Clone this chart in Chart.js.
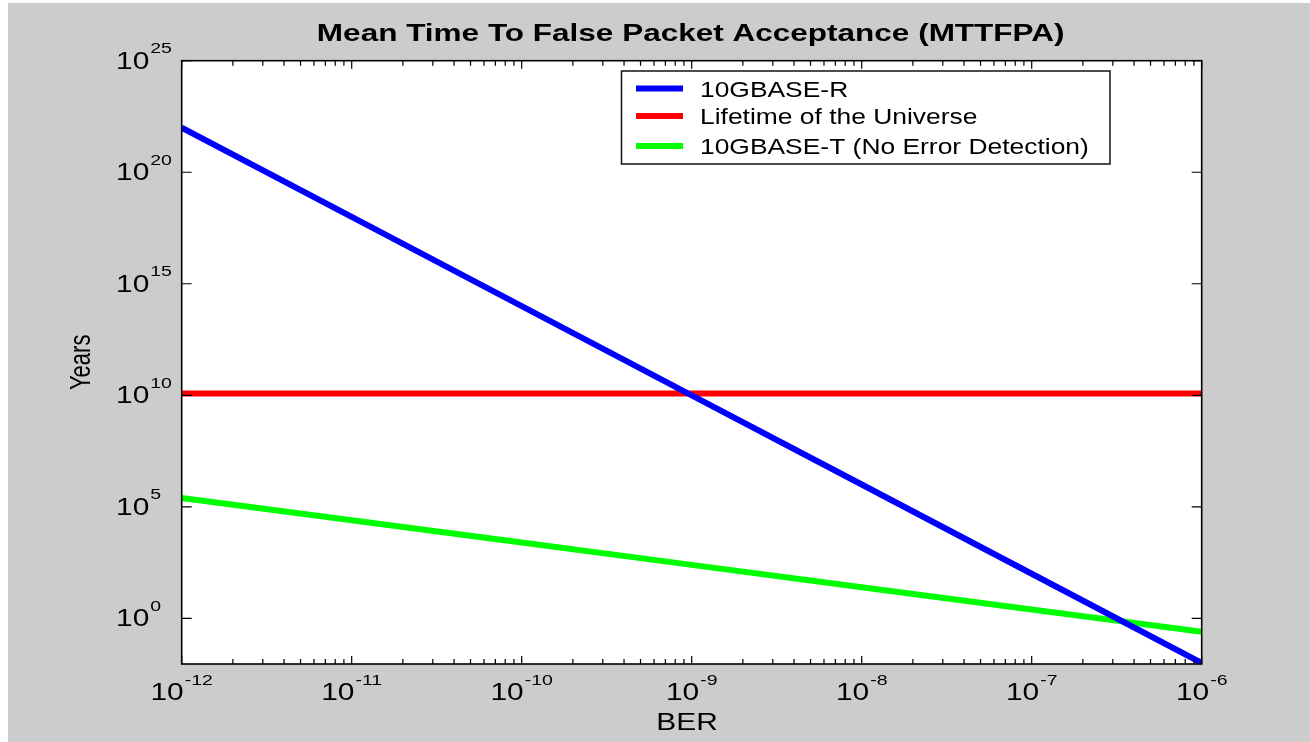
<!DOCTYPE html>
<html lang="en">
<head>
  <meta charset="UTF-8" />
  <title>MTTFPA</title>
  <script src="https://cdn.jsdelivr.net/npm/chart.js"></script>
  <style>
    html, body {
      margin: 0;
      padding: 0;
      background: #ffffff;
    }
    #wrap {
      width: 1310px;
      height: 742px;
    }
  </style>
</head>
<body>
  <div id="wrap"><canvas id="mttfpaChart" width="1310" height="742"></canvas></div>

  <script>
    // values (log-log)
    const berValues = [1e-12, 1e-11, 1e-10, 1e-9, 1e-8, 1e-7, 1e-6];
    const gbaseR = [1e22, 1e18, 1e14, 1e10, 1e6, 1e2, 1e-2];
    const universe = [1.2e10, 1.2e10, 1.2e10, 1.2e10, 1.2e10, 1.2e10, 1.2e10];
    const gbaseT = [2.5e5, 2.5e4, 2.5e3, 250, 25, 2.5, 0.25];

    const seriesNames = ['10GBASE-R', 'Lifetime of the Universe', '10GBASE-T (No Error Detection)'];
    const seriesColors = ['#0000ff', '#ff0000', '#00ff00'];

    const xTickExps = [-12, -11, -10, -9, -8, -7, -6];
    const yTickExps = [0, 5, 10, 15, 20, 25];

    const chartTitle = 'Mean Time To False Packet Acceptance (MTTFPA)';
    const xTitle = 'BER';
    const yTitle = 'Years';

    const FONT = '"Liberation Sans", Arial, sans-serif';
    const SX = 1.3; // the original text is stretched horizontally

    function toPoints(vals) {
      return berValues.map((b, i) => ({ x: b, y: vals[i] }));
    }

    function wideText(ctx, text, x, y, align, sx) {
      ctx.save();
      ctx.translate(x, y);
      ctx.scale(sx || SX, 1);
      ctx.textAlign = align || 'left';
      ctx.textBaseline = 'alphabetic';
      ctx.fillText(text, 0, 0);
      ctx.restore();
    }

    // "10" with a raised exponent, drawn from (left, baseline)
    function powLabel(ctx, exp, left, baseline) {
      ctx.font = '23px ' + FONT;
      const wBase = ctx.measureText('10').width * SX;
      wideText(ctx, '10', left, baseline);
      ctx.font = '15px ' + FONT;
      wideText(ctx, String(exp), left + wBase + 1, baseline - 15.5);
    }

    function powWidth(ctx, exp) {
      ctx.font = '23px ' + FONT;
      const a = ctx.measureText('10').width * SX;
      ctx.font = '15px ' + FONT;
      const b = ctx.measureText(String(exp)).width * SX;
      return a + b + 1;
    }

    const matlabLook = {
      id: 'matlabLook',
      beforeDraw(chart) {
        const ctx = chart.ctx;
        const a = chart.chartArea;
        ctx.save();
        ctx.fillStyle = '#ffffff';
        ctx.fillRect(0, 0, chart.width, chart.height);
        ctx.fillStyle = '#cccccc';
        ctx.fillRect(8, 3, chart.width - 8, chart.height - 3);
        ctx.fillStyle = '#ffffff';
        ctx.fillRect(a.left, a.top, a.right - a.left, a.bottom - a.top);
        ctx.restore();
      },
      afterDatasetsDraw(chart) {
        const ctx = chart.ctx;
        const a = chart.chartArea;
        const xs = chart.scales.x;
        const ys = chart.scales.y;
        ctx.save();

        // ticks (inward, top/bottom and left/right)
        ctx.strokeStyle = '#000000';
        ctx.lineWidth = 1.2;
        ctx.beginPath();
        for (let e = xTickExps[0]; e <= xTickExps[xTickExps.length - 1]; e++) {
          const px = xs.getPixelForValue(Math.pow(10, e));
          ctx.moveTo(px, a.bottom); ctx.lineTo(px, a.bottom - 8);
          ctx.moveTo(px, a.top); ctx.lineTo(px, a.top + 8);
          if (e < xTickExps[xTickExps.length - 1]) {
            for (let m = 2; m <= 9; m++) {
              const mx = xs.getPixelForValue(m * Math.pow(10, e));
              ctx.moveTo(mx, a.bottom); ctx.lineTo(mx, a.bottom - 5);
              ctx.moveTo(mx, a.top); ctx.lineTo(mx, a.top + 5);
            }
          }
        }
        yTickExps.forEach(e => {
          const py = ys.getPixelForValue(Math.pow(10, e));
          ctx.moveTo(a.left, py); ctx.lineTo(a.left + 10, py);
          ctx.moveTo(a.right, py); ctx.lineTo(a.right - 10, py);
        });
        ctx.stroke();

        // frame
        ctx.lineWidth = 1.6;
        ctx.strokeRect(a.left, a.top, a.right - a.left, a.bottom - a.top);

        // tick labels
        ctx.fillStyle = '#000000';
        xTickExps.forEach(e => {
          const px = xs.getPixelForValue(Math.pow(10, e));
          const w = powWidth(ctx, e);
          powLabel(ctx, e, px - w / 2, 700);
        });
        yTickExps.forEach(e => {
          const py = ys.getPixelForValue(Math.pow(10, e));
          powLabel(ctx, e, 116, py + 8);
        });

        // titles
        ctx.font = 'bold 23px ' + FONT;
        wideText(ctx, chartTitle, (a.left + a.right) / 2 - 1, 41, 'center', 1.37);
        ctx.font = '23px ' + FONT;
        wideText(ctx, xTitle, 687, 730, 'center');
        ctx.save();
        ctx.translate(90, (a.top + a.bottom) / 2);
        ctx.rotate(-Math.PI / 2);
        ctx.scale(1, SX);
        ctx.font = '22px ' + FONT;
        ctx.textAlign = 'center';
        ctx.fillText(yTitle, 0, 0);
        ctx.restore();

        // legend box
        const lx = 621.5, ly = 71, lw = 488.5, lh = 93;
        ctx.fillStyle = '#ffffff';
        ctx.fillRect(lx, ly, lw, lh);
        ctx.lineWidth = 1.5;
        ctx.strokeStyle = '#111111';
        ctx.strokeRect(lx, ly, lw, lh);
        const rowY = [88.5, 116, 146];
        chart.data.datasets.forEach((ds, i) => {
          ctx.strokeStyle = ds.borderColor;
          ctx.lineWidth = 6;
          ctx.beginPath();
          ctx.moveTo(636, rowY[i]);
          ctx.lineTo(683, rowY[i]);
          ctx.stroke();
          ctx.fillStyle = '#000000';
          ctx.font = '22px ' + FONT;
          wideText(ctx, ds.label, 700, rowY[i] + 8, 'left', 1.2);
        });

        ctx.restore();
      }
    };

    new Chart(document.getElementById('mttfpaChart'), {
      type: 'line',
      data: {
        datasets: [
          { label: seriesNames[0], data: toPoints(gbaseR), borderColor: seriesColors[0] },
          { label: seriesNames[1], data: toPoints(universe), borderColor: seriesColors[1] },
          { label: seriesNames[2], data: toPoints(gbaseT), borderColor: seriesColors[2] }
        ]
      },
      options: {
        responsive: false,
        animation: false,
        events: [],
        layout: {
          padding: { left: 181.7, top: 60.7, right: 108.3, bottom: 78 }
        },
        elements: {
          line: { borderWidth: 6, tension: 0, borderCapStyle: 'butt' },
          point: { radius: 0 }
        },
        scales: {
          x: { type: 'logarithmic', min: 1e-12, max: 1e-6, display: false },
          y: { type: 'logarithmic', min: 0.009, max: 1e25, display: false }
        },
        plugins: {
          legend: { display: false },
          title: { display: false },
          tooltip: { enabled: false }
        }
      },
      plugins: [matlabLook]
    });
  </script>
</body>
</html>
